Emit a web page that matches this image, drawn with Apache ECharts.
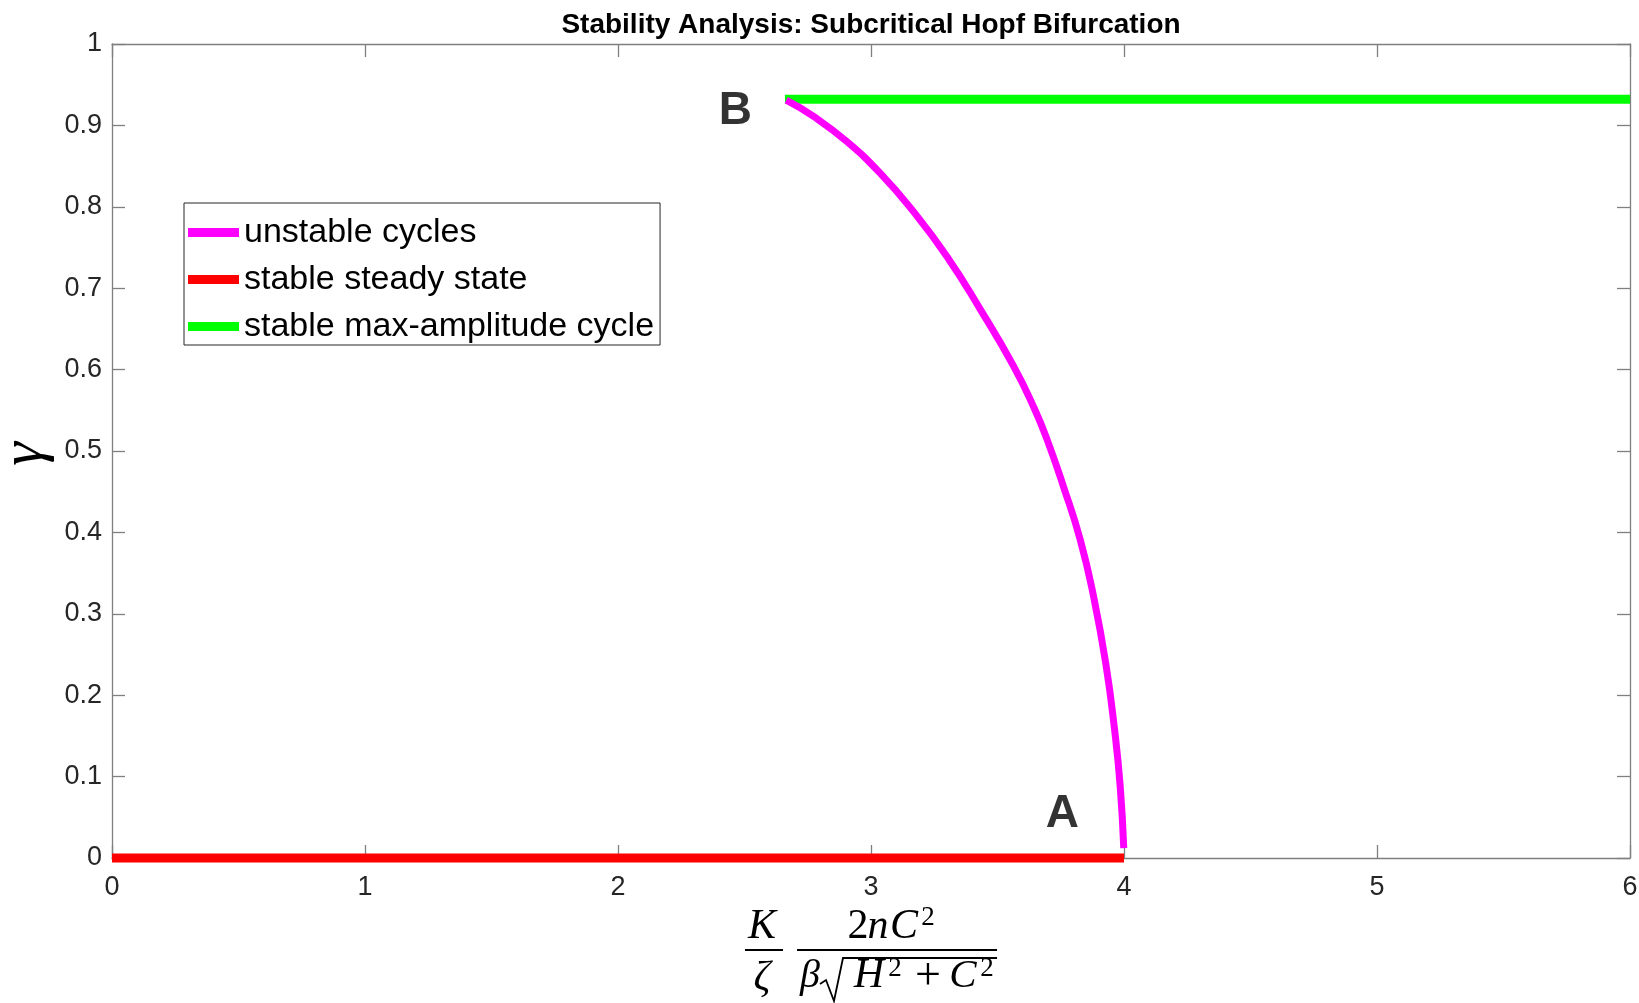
<!DOCTYPE html>
<html>
<head>
<meta charset="utf-8">
<title>Stability Analysis: Subcritical Hopf Bifurcation</title>
<script src="https://cdn.jsdelivr.net/npm/echarts@6.0.0/dist/echarts.min.js"></script>
<style>
  html, body { margin: 0; padding: 0; background: #fff; }
  #chart { width: 1639px; height: 1003px; }
</style>
</head>
<body>
<div id="chart"></div>
<script>
// data
var xTicks = [0, 1, 2, 3, 4, 5, 6];
var seriesNames = ['unstable cycles', 'stable steady state', 'stable max-amplitude cycle'];
var seriesColors = ['#ff00ff', '#ff0000', '#00ff00'];

// unstable branch between A and B
var unstableX = [2.665, 2.773, 2.905, 3.037, 3.168, 3.300, 3.432, 3.564, 3.643, 3.696, 3.761, 3.827, 3.880, 3.928, 3.963, 3.985, 3.999];
var unstableY = [0.931, 0.911, 0.880, 0.841, 0.794, 0.739, 0.674, 0.604, 0.554, 0.514, 0.456, 0.391, 0.321, 0.239, 0.157, 0.088, 0.012];

// stable steady state (gamma = 0)
var steadyX = [0, 4];
var steadyY = [0, 0];

// stable max-amplitude cycle
var maxCycleX = [2.66, 6];
var maxCycleY = [0.932, 0.932];

// point labels
var pointNames = ['A', 'B'];
var pointX = [3.756, 2.464];
var pointY = [0.054, 0.917];

function zip(xs, ys) {
    var out = [];
    for (var i = 0; i < xs.length; i++) out.push([xs[i], ys[i]]);
    return out;
}

var axisGray = '#7f7f7f';
var labelFont = 'Liberation Sans, Arial, sans-serif';
var mathFont = 'Liberation Serif, Times New Roman, serif';

// small helper for the hand-set x label pieces
function mathText(str, x, y, size, italic) {
    return {
        type: 'text', x: x, y: y,
        style: {
            text: str, fontFamily: mathFont, fontStyle: italic ? 'italic' : 'normal',
            fontSize: size, fill: '#000', align: 'center', verticalAlign: 'middle'
        }
    };
}

var chart = echarts.init(document.getElementById('chart'));

var option = {
    backgroundColor: '#fff',
    animation: false,
    title: {
        text: 'Stability Analysis: Subcritical Hopf Bifurcation',
        left: 871,
        textAlign: 'center',
        top: 11,
        padding: 0,
        textStyle: { fontFamily: labelFont, fontSize: 28, fontWeight: 'bold', color: '#000' }
    },
    legend: {
        data: seriesNames,
        orient: 'vertical',
        left: 184,
        top: 203,
        icon: 'rect',
        itemWidth: 51,
        itemHeight: 9,
        itemGap: 10,
        padding: [11, 6, 0, 4],
        borderColor: '#262626',
        borderWidth: 1,
        backgroundColor: '#fff',
        selectedMode: false,
        textStyle: { fontFamily: labelFont, fontSize: 34, lineHeight: 37, color: '#000' }
    },
    grid: {
        left: 112,
        right: 9,
        top: 44,
        bottom: 145,
        containLabel: false,
        outerBoundsMode: 'none'
    },
    xAxis: [{
        type: 'value',
        min: 0,
        max: 6,
        interval: 1,
        axisLine: { show: true, lineStyle: { color: axisGray, width: 1.3 } },
        axisTick: { show: true, inside: true, length: 13, lineStyle: { color: axisGray, width: 1.3 } },
        axisLabel: {
            margin: 16, fontFamily: labelFont, fontSize: 27, color: '#262626',
            formatter: function (v) { return xTicks.indexOf(v) >= 0 ? String(v) : ''; }
        },
        splitLine: { show: false }
    }, {
        type: 'value',
        position: 'top',
        min: 0,
        max: 6,
        interval: 1,
        axisLine: { show: true, onZero: false, lineStyle: { color: axisGray, width: 1.3 } },
        axisTick: { show: true, inside: true, length: 13, lineStyle: { color: axisGray, width: 1.3 } },
        axisLabel: { show: false },
        splitLine: { show: false }
    }],
    yAxis: [{
        type: 'value',
        min: 0,
        max: 1,
        interval: 0.1,
        axisLine: { show: true, lineStyle: { color: axisGray, width: 1.3 } },
        axisTick: { show: true, inside: true, length: 13, lineStyle: { color: axisGray, width: 1.3 } },
        axisLabel: { margin: 10, fontFamily: labelFont, fontSize: 27, color: '#262626' },
        splitLine: { show: false }
    }, {
        type: 'value',
        position: 'right',
        min: 0,
        max: 1,
        interval: 0.1,
        axisLine: { show: true, onZero: false, lineStyle: { color: axisGray, width: 1.3 } },
        axisTick: { show: true, inside: true, length: 13, lineStyle: { color: axisGray, width: 1.3 } },
        axisLabel: { show: false },
        splitLine: { show: false }
    }],
    graphic: [
        // y label: gamma, rotated like a MATLAB ylabel
        {
            type: 'text', x: 25, y: 454, rotation: Math.PI / 2,
            style: { text: 'γ', fontFamily: mathFont, fontStyle: 'italic', fontSize: 60, fill: '#000', align: 'center', verticalAlign: 'middle' }
        },
        // x label: K/zeta * 2nC^2 / (beta sqrt(H^2+C^2))
        mathText('K', 762, 927, 42, true),
        { type: 'line', shape: { x1: 745, y1: 950, x2: 783, y2: 950 }, style: { stroke: '#000', lineWidth: 2 } },
        mathText('ζ', 762, 979, 42, true),
        mathText('2', 858, 927, 42, false),
        mathText('n', 878, 927, 42, true),
        mathText('C', 904, 927, 42, true),
        mathText('2', 928, 918, 27, false),
        { type: 'line', shape: { x1: 797, y1: 950, x2: 997, y2: 950 }, style: { stroke: '#000', lineWidth: 2 } },
        mathText('β', 810, 976, 40, true),
        {
            type: 'polyline',
            shape: { points: [[820, 984], [826, 980], [834, 1001], [843, 958], [997, 958]] },
            style: { stroke: '#000', lineWidth: 1.8, fill: null }
        },
        mathText('H', 869, 976, 42, true),
        mathText('2', 895, 969, 27, false),
        mathText('+', 928, 977, 46, false),
        mathText('C', 963, 976, 41, true),
        mathText('2', 987, 969, 27, false)
    ],
    series: [{
        name: seriesNames[0],
        type: 'line',
        data: zip(unstableX, unstableY),
        color: seriesColors[0],
        showSymbol: false,
        smooth: 0.5,
        clip: false,
        lineStyle: { color: seriesColors[0], width: 7 },
        z: 4
    }, {
        name: seriesNames[1],
        type: 'line',
        data: zip(steadyX, steadyY),
        color: seriesColors[1],
        showSymbol: false,
        clip: false,
        lineStyle: { color: seriesColors[1], width: 9 },
        z: 3
    }, {
        name: seriesNames[2],
        type: 'line',
        data: zip(maxCycleX, maxCycleY),
        color: seriesColors[2],
        showSymbol: false,
        clip: false,
        lineStyle: { color: seriesColors[2], width: 9 },
        z: 3
    }, {
        name: 'points',
        type: 'scatter',
        data: pointNames.map(function (n, i) { return { name: n, value: [pointX[i], pointY[i]] }; }),
        symbolSize: 1,
        itemStyle: { color: 'rgba(0,0,0,0)' },
        label: {
            show: true,
            position: 'inside',
            formatter: '{b}',
            fontFamily: labelFont,
            fontSize: 46,
            fontWeight: 'bold',
            color: '#000',
            textBorderWidth: 0
        },
        silent: true,
        z: 5
    }]
};

chart.setOption(option);
</script>
</body>
</html>
